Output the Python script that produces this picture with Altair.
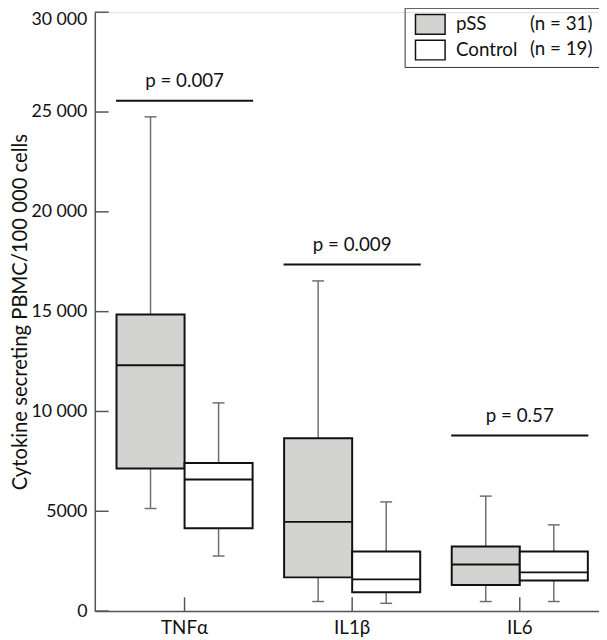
import altair as alt
import pandas as pd

FONT = "Lato"

cytokines = ["TNFα", "IL1β", "IL6"]
groups = ["pSS", "Control"]
group_n = ["(n = 31)", "(n = 19)"]

box_cytokine = ["TNFα", "TNFα", "IL1β", "IL1β", "IL6", "IL6"]
box_group = ["pSS", "Control", "pSS", "Control", "pSS", "Control"]
whisker_low = [5140, 2760, 480, 390, 480, 480]
quartile_1 = [7140, 4150, 1690, 950, 1310, 1530]
median_val = [12320, 6590, 4470, 1590, 2330, 1940]
quartile_3 = [14860, 7420, 8660, 2990, 3240, 2990]
whisker_high = [24760, 10430, 16540, 5470, 5760, 4320]

p_labels = ["p = 0.007", "p = 0.009", "p = 0.57"]
p_bar_level = [25570, 17360, 8800]

y_tick_values = [0, 5000, 10000, 15000, 20000, 25000, 30000]
y_title = "Cytokine secreting PBMC/100 000 cells"

n_of_group = dict(zip(groups, group_n))
boxes = pd.DataFrame({
    "cytokine": box_cytokine, "group": box_group,
    "n_label": [n_of_group[g] for g in box_group],
    "low": whisker_low, "q1": quartile_1, "median": median_val,
    "q3": quartile_3, "high": whisker_high,
})
caps = pd.concat([
    pd.DataFrame({"cytokine": box_cytokine, "group": box_group, "value": whisker_low}),
    pd.DataFrame({"cytokine": box_cytokine, "group": box_group, "value": whisker_high}),
])
pvals = pd.DataFrame({"cytokine": cytokines, "label": p_labels, "level": p_bar_level})
yticks = pd.DataFrame({"tick": y_tick_values})
xticks = pd.DataFrame({"cytokine": cytokines})

fill_range = ["#d3d4d2", "#ffffff"]
stroke_range = ["#111111", "#111111"]

AXIS_COLOR = "#555555"
WHISKER = "#6e6e6e"

x_scale = alt.Scale(domain=cytokines, paddingInner=0.188, paddingOuter=0.098, align=0.66)
x_axis = alt.Axis(domainColor=AXIS_COLOR, domainWidth=1.5, ticks=False, labelAngle=0,
                  labelFontSize=19, labelPadding=8, labelColor="#111111", labelFont=FONT)
y_scale = alt.Scale(domain=[0, 30000], nice=False)
y_axis = alt.Axis(values=y_tick_values, ticks=False, grid=False, domainColor=AXIS_COLOR,
                  domainWidth=1.5, labelFontSize=18, labelPadding=8, labelColor="#111111",
                  labelFont=FONT, titleFont=FONT, titleFontSize=20.5, titleFontWeight="normal",
                  titleColor="#111111", titlePadding=0,
                  labelOffset={"condition": {"test": "datum.value === 30000", "value": 7}, "value": 0},
                  labelExpr="datum.value >= 10000 ? replace(format(datum.value, ','), ',', ' ') : format(datum.value, 'd')")


def X():
    return alt.X("cytokine:N", scale=x_scale, axis=x_axis, title=None)


def Y(field):
    return alt.Y(f"{field}:Q", scale=y_scale, axis=y_axis, title=y_title)


xoff = alt.XOffset("group:N", scale=alt.Scale(domain=groups, paddingInner=0, paddingOuter=0))

# legend with swatches and group names (no frame)
legend_groups = alt.Legend(title=None, orient="none", legendX=329, legendY=1.3,
                           rowPadding=0, padding=0,
                           symbolType="M-1.5,-1H1.5V1H-1.5Z", symbolSize=400,
                           symbolStrokeWidth=1.5, labelFontSize=19, labelOffset=15,
                           labelFont=FONT, labelColor="#111111")
# legend with the group sizes; its frame encloses both legends
legend_counts = alt.Legend(title=None, orient="none", legendX=314, legendY=-4.5,
                           rowPadding=5.7, padding=7, strokeColor="#333333",
                           symbolSize=0, symbolStrokeWidth=0, symbolOpacity=0,
                           labelFontSize=19, labelOffset=101, labelFont=FONT,
                           labelColor="#111111", labelExpr="datum.label + '\u00a0'")

whiskers = alt.Chart(boxes).mark_rule(color=WHISKER, strokeWidth=1.5).encode(
    x=X(), xOffset=xoff, y=Y("low"), y2="high:Q")
cap_marks = alt.Chart(caps).mark_tick(color=WHISKER, size=12, thickness=1.5, opacity=1).encode(
    x=X(), xOffset=xoff, y=Y("value"))
box_marks = alt.Chart(boxes).mark_bar(strokeWidth=2).encode(
    x=X(), xOffset=xoff, y=Y("q1"), y2="q3:Q",
    fill=alt.Fill("group:N", scale=alt.Scale(domain=groups, range=fill_range), legend=legend_groups),
    stroke=alt.Stroke("group:N", scale=alt.Scale(domain=groups, range=stroke_range), legend=legend_groups),
    opacity=alt.Opacity("n_label:N", scale=alt.Scale(domain=group_n, range=[1, 1]), legend=legend_counts),
)
median_marks = alt.Chart(boxes).mark_tick(color="#111111", size=69, thickness=2, opacity=1).encode(
    x=X(), xOffset=xoff, y=Y("median"))
p_lines = alt.Chart(pvals).mark_tick(color="#111111", size=139, thickness=2, opacity=1).encode(
    x=X(), y=Y("level"))
p_text = alt.Chart(pvals).mark_text(dy=-14, baseline="alphabetic", fontSize=19, font=FONT,
                                    color="#111111").encode(
    x=X(), y=Y("level"), text="label:N")
y_tick_marks = alt.Chart(yticks).mark_rule(color=AXIS_COLOR, strokeWidth=1.5).encode(
    y=Y("tick"), x=alt.value(0), x2=alt.value(14))
x_tick_marks = alt.Chart(xticks).mark_rule(color=AXIS_COLOR, strokeWidth=1.5).encode(
    x=X(), y=alt.value(607), y2=alt.value(593))

chart = alt.layer(
    whiskers, cap_marks, box_marks, median_marks, p_lines, p_text, y_tick_marks, x_tick_marks
).properties(
    width=511, height=607,
    autosize=alt.AutoSizeParams(type="none"),
    padding={"left": 88, "top": 0, "right": 0, "bottom": 24},
    background="white",
).configure_view(stroke=None).configure(font=FONT)

chart.save("out.html", embed_options={"renderer": "svg", "actions": False})
